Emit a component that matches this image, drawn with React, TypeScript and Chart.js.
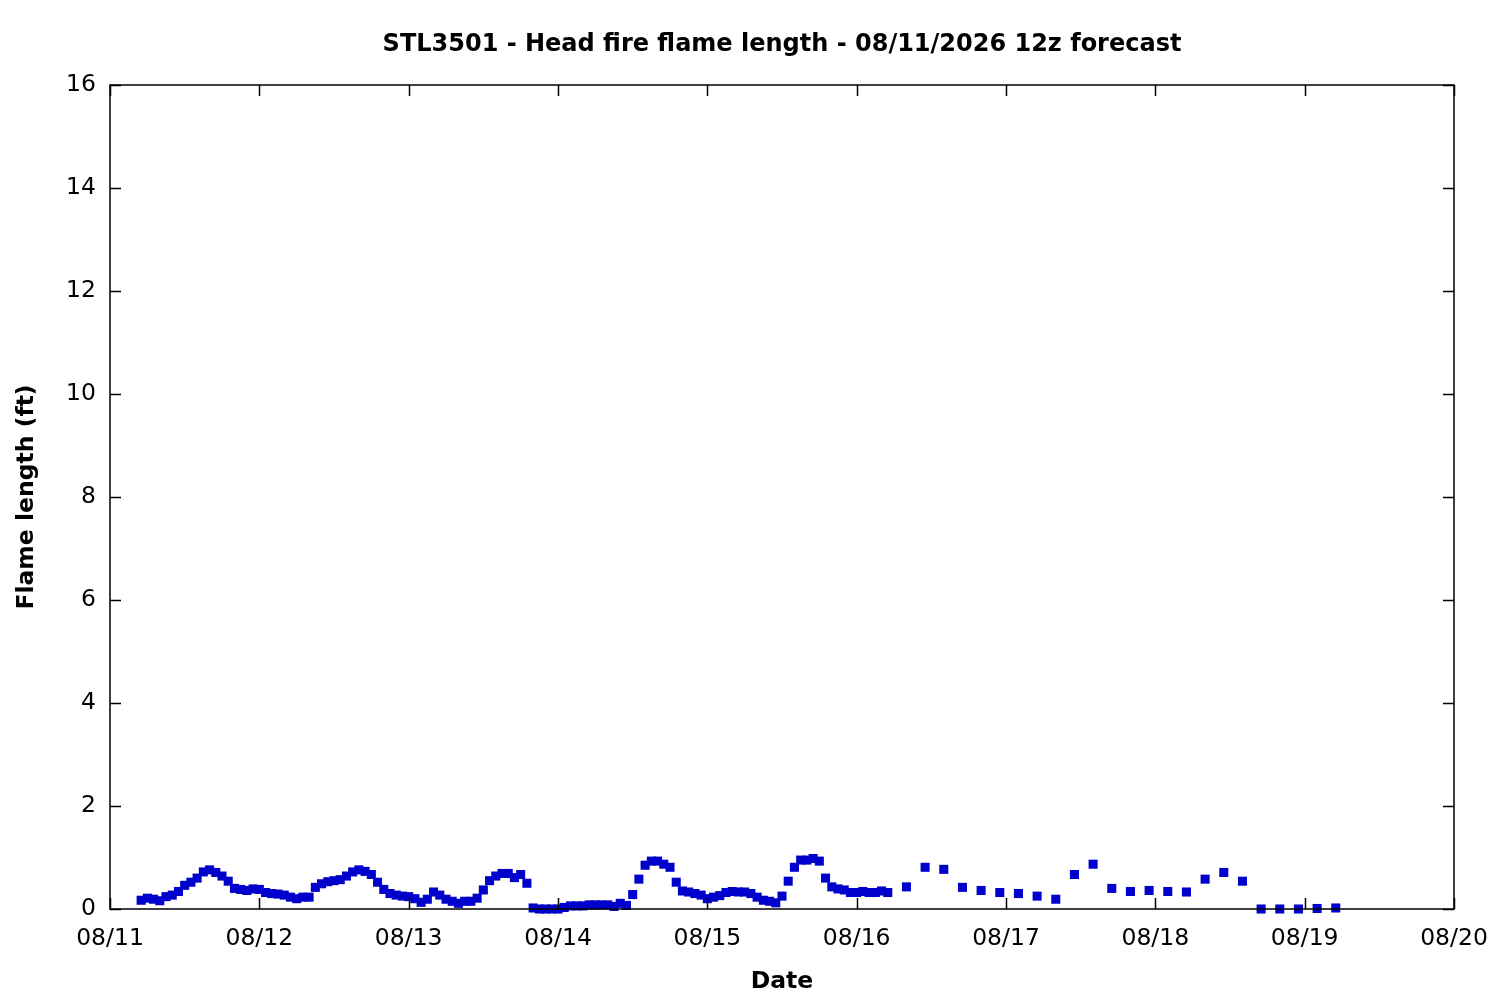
import React, { useEffect, useRef } from "react";
import { Chart, registerables } from "chart.js";

Chart.register(...registerables);

// Chart title
const titleText = "STL3501 - Head fire flame length - 08/11/2026 12z forecast";

// Tick labels for the date axis (one per day, 08/11 00Z .. 08/20 00Z)
const dateLabels = ["08/11", "08/12", "08/13", "08/14", "08/15", "08/16", "08/17", "08/18", "08/19", "08/20"];

// Hourly flame length (ft)
const aug11Hourly = [0.17, 0.21, 0.19, 0.16, 0.24, 0.27, 0.34, 0.46, 0.52, 0.60, 0.72, 0.76, 0.71, 0.64, 0.54, 0.40, 0.38, 0.36, 0.39]; // 05Z-23Z
const aug12Hourly = [0.38, 0.32, 0.30, 0.29, 0.27, 0.23, 0.20, 0.23, 0.23, 0.42, 0.49, 0.53, 0.55, 0.57, 0.64, 0.72, 0.76, 0.73, 0.67, 0.52, 0.38, 0.30, 0.27, 0.25];
const aug13Hourly = [0.24, 0.20, 0.13, 0.19, 0.33, 0.27, 0.19, 0.15, 0.11, 0.15, 0.15, 0.21, 0.37, 0.55, 0.64, 0.69, 0.69, 0.61, 0.67, 0.50, 0.02, 0.00, 0.00, 0.00];
const aug14Hourly = [0.00, 0.03, 0.06, 0.06, 0.06, 0.08, 0.08, 0.08, 0.08, 0.05, 0.11, 0.07, 0.28, 0.58, 0.85, 0.93, 0.93, 0.87, 0.81, 0.52, 0.35, 0.33, 0.30, 0.27];
const aug15Hourly = [0.20, 0.23, 0.26, 0.32, 0.34, 0.33, 0.33, 0.30, 0.23, 0.17, 0.15, 0.12, 0.25, 0.54, 0.81, 0.95, 0.95, 0.98, 0.93, 0.60, 0.43, 0.39, 0.37, 0.32];
const aug16Hourly = [0.32, 0.34, 0.32, 0.32, 0.35, 0.32]; // 00Z-05Z

// 3-hourly flame length (ft)
const aug16ThreeHourly = [0.43, 0.81, 0.77, 0.42, 0.36, 0.32]; // 08Z-23Z
const aug17ThreeHourly = [0.30, 0.25, 0.19, 0.67, 0.87, 0.40, 0.34, 0.36]; // 02Z-23Z
const aug18ThreeHourly = [0.34, 0.33, 0.58, 0.71, 0.54, 0.00, 0.00, 0.00]; // 02Z-23Z
const aug19ThreeHourly = [0.01, 0.02]; // 02Z-05Z

// [day index from 08/11, first hour, step hours, values]
const segments: [number, number, number, number[]][] = [
  [0, 5, 1, aug11Hourly],
  [1, 0, 1, aug12Hourly],
  [2, 0, 1, aug13Hourly],
  [3, 0, 1, aug14Hourly],
  [4, 0, 1, aug15Hourly],
  [5, 0, 1, aug16Hourly],
  [5, 8, 3, aug16ThreeHourly],
  [6, 2, 3, aug17ThreeHourly],
  [7, 2, 3, aug18ThreeHourly],
  [8, 2, 3, aug19ThreeHourly],
];

const FONT = "'DejaVu Sans', sans-serif";

const frameTicks = {
  id: "frameTicks",
  afterDraw(chart: any) {
    const { ctx, chartArea, scales } = chart;
    const { left, right, top, bottom } = chartArea;
    const tl = 11;
    ctx.save();
    ctx.strokeStyle = "#000";
    ctx.lineWidth = 1.5;
    ctx.beginPath();
    scales.x.ticks.forEach((t: any) => {
      const px = Math.round(scales.x.getPixelForValue(t.value)) + 0.5;
      ctx.moveTo(px, bottom);
      ctx.lineTo(px, bottom - tl);
      ctx.moveTo(px, top);
      ctx.lineTo(px, top + tl);
    });
    scales.y.ticks.forEach((t: any) => {
      const py = Math.round(scales.y.getPixelForValue(t.value)) + 0.5;
      ctx.moveTo(left, py);
      ctx.lineTo(left + tl, py);
      ctx.moveTo(right, py);
      ctx.lineTo(right - tl, py);
    });
    ctx.stroke();
    ctx.strokeRect(left, top, right - left, bottom - top);
    // title centred over the plot area
    ctx.fillStyle = "#000";
    ctx.font = `bold 24px ${FONT}`;
    ctx.textAlign = "center";
    ctx.textBaseline = "middle";
    ctx.fillText(titleText, (left + right) / 2, 44.9);
    ctx.restore();
  },
};

export default function App() {
  const ref = useRef<HTMLCanvasElement | null>(null);
  useEffect(() => {
    if (!ref.current) return;
    const points: { x: number; y: number }[] = [];
    segments.forEach(([day, h0, step, vals]) => {
      vals.forEach((v, i) => points.push({ x: day * 24 + h0 + i * step, y: v }));
    });
    const chart = new Chart(ref.current, {
      type: "scatter",
      data: {
        datasets: [
          {
            data: points,
            pointStyle: "rect",
            pointRadius: 6.4,
            pointHoverRadius: 6.4,
            backgroundColor: "#0000cc",
            borderColor: "#0000cc",
            borderWidth: 0,
            showLine: false,
            clip: false as any,
          },
        ],
      },
      options: {
        responsive: false,
        animation: false,
        devicePixelRatio: 1,
        layout: { padding: { left: 0, right: 46, top: 0, bottom: 0 } },
        plugins: {
          legend: { display: false },
          tooltip: { enabled: false },
          title: {
            display: true,
            text: titleText,
            color: "rgba(0,0,0,0)",
            font: { family: FONT, size: 24, weight: "bold" },
            padding: { top: 30.5, bottom: 25.7 },
          },
        },
        scales: {
          x: {
            type: "linear",
            min: 0,
            max: 216,
            afterFit: (s: any) => {
              s.height = 91;
              s.paddingLeft = 0;
              s.paddingRight = 0;
            },
            ticks: {
              stepSize: 24,
              color: "#000",
              font: { family: FONT, size: 23.5 },
              padding: 16,
              maxRotation: 0,
              callback: (v: any) => dateLabels[Math.round(Number(v) / 24)] ?? "",
            },
            grid: { display: false, drawTicks: false },
            border: { display: false },
            title: {
              display: true,
              text: "Date",
              color: "#000",
              font: { family: FONT, size: 23.5, weight: "bold" },
              padding: { top: 0, bottom: 4 },
            },
          },
          y: {
            type: "linear",
            min: 0,
            max: 16,
            afterFit: (s: any) => {
              s.width = 110;
            },
            ticks: {
              stepSize: 2,
              color: "#000",
              font: { family: FONT, size: 23.5 },
              padding: 14,
            },
            grid: { display: false, drawTicks: false },
            border: { display: false },
            title: {
              display: true,
              text: "Flame length (ft)",
              color: "#000",
              font: { family: FONT, size: 23.5, weight: "bold" },
              padding: { top: 13, bottom: 0 },
            },
          },
        },
      },
      plugins: [frameTicks],
    });
    return () => chart.destroy();
  }, []);
  return (
    <div style={{ position: "absolute", left: 0, top: 0, width: 1500, height: 1000, background: "#fff" }}>
      <canvas ref={ref} width={1500} height={1000} style={{ width: 1500, height: 1000 }} />
    </div>
  );
}
